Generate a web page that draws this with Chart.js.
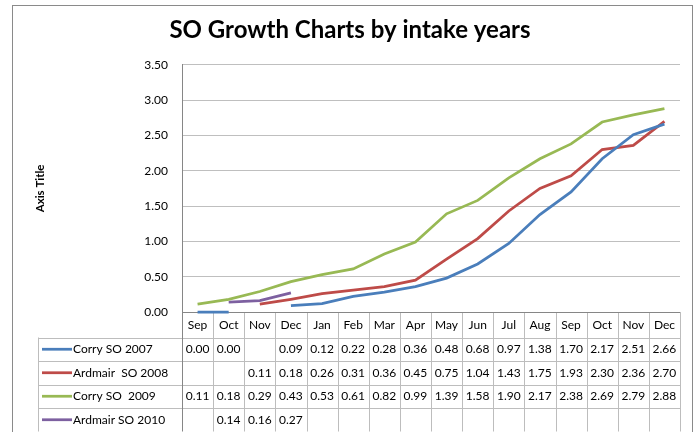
<!DOCTYPE html>
<html><head><meta charset="utf-8">
<script src="https://cdn.jsdelivr.net/npm/chart.js@4"></script>
<style>html,body{margin:0;padding:0;background:#fff}</style>
</head><body>
<canvas id="c" width="695" height="432"></canvas>
<script>
const months = ['Sep','Oct','Nov','Dec','Jan','Feb','Mar','Apr','May','Jun','Jul','Aug','Sep','Oct','Nov','Dec'];
const seriesNames = ['Corry SO 2007','Ardmair  SO 2008','Corry SO  2009','Ardmair SO 2010'];
const corry2007   = [0.00,0.00,null,0.09,0.12,0.22,0.28,0.36,0.48,0.68,0.97,1.38,1.70,2.17,2.51,2.66];
const ardmair2008 = [null,null,0.11,0.18,0.26,0.31,0.36,0.45,0.75,1.04,1.43,1.75,1.93,2.30,2.36,2.70];
const corry2009   = [0.11,0.18,0.29,0.43,0.53,0.61,0.82,0.99,1.39,1.58,1.90,2.17,2.38,2.69,2.79,2.88];
const ardmair2010 = [null,0.14,0.16,0.27,null,null,null,null,null,null,null,null,null,null,null,null];
const seriesColors = ['#4A7EBB','#BE4B48','#98B954','#7D60A0'];
const seriesData = [corry2007, ardmair2008, corry2009, ardmair2010];

const FONT = 'Lato, "Open Sans", sans-serif';

const tablePlugin = {
  id: 'dataTable',
  beforeDraw(chart) {
    const ctx = chart.ctx;
    ctx.save();
    ctx.fillStyle = '#fff';
    ctx.fillRect(0, 0, chart.width, chart.height);
    ctx.strokeStyle = '#8a8a8a';
    ctx.lineWidth = 1;
    ctx.strokeRect(12.5, 5.5, 680, 440);
    ctx.restore();
  },
  beforeDatasetsDraw(chart) {
    const ctx = chart.ctx;
    const a = chart.chartArea;
    const n = months.length;
    const cw = (a.right - a.left) / n;
    const headerH = 25.5, rowH = 23.5;
    const tableLeft = 38;
    const rowTops = [a.bottom + headerH];
    for (let i = 1; i <= seriesNames.length; i++) rowTops.push(a.bottom + headerH + rowH * i);
    const bottom = rowTops[rowTops.length - 1];
    ctx.save();
    ctx.lineWidth = 1;
    ctx.strokeStyle = '#BDBDBD';
    rowTops.forEach(y => {
      ctx.beginPath(); ctx.moveTo(tableLeft, Math.round(y) + 0.5); ctx.lineTo(a.right, Math.round(y) + 0.5); ctx.stroke();
    });
    for (let i = 1; i <= n; i++) {
      const xx = Math.round(a.left + cw * i) + 0.5;
      ctx.beginPath(); ctx.moveTo(xx, a.bottom); ctx.lineTo(xx, bottom); ctx.stroke();
    }
    ctx.beginPath(); ctx.moveTo(tableLeft + 0.5, rowTops[0]); ctx.lineTo(tableLeft + 0.5, bottom); ctx.stroke();
    ctx.strokeStyle = '#868686';
    ctx.beginPath(); ctx.moveTo(a.left, Math.round(a.bottom) + 0.5); ctx.lineTo(a.right, Math.round(a.bottom) + 0.5); ctx.stroke();
    ctx.beginPath(); ctx.moveTo(Math.round(a.left) + 0.5, a.bottom); ctx.lineTo(Math.round(a.left) + 0.5, bottom); ctx.stroke();
    ctx.restore();
  },
  afterDraw(chart) {
    const ctx = chart.ctx;
    const a = chart.chartArea;
    const x = chart.scales.x;
    const headerH = 25.5, rowH = 23.5;
    const rowTops = [a.bottom + headerH];
    for (let i = 1; i <= seriesNames.length; i++) rowTops.push(a.bottom + headerH + rowH * i);
    ctx.save();
    ctx.fillStyle = '#000';
    ctx.font = '12px ' + FONT;
    ctx.textAlign = 'center';
    ctx.textBaseline = 'middle';
    months.forEach((m, i) => {
      ctx.fillText(m, x.getPixelForValue(i), a.bottom + headerH / 2);
    });
    seriesNames.forEach((name, r) => {
      const cy = rowTops[r] + rowH / 2;
      ctx.strokeStyle = seriesColors[r];
      ctx.lineWidth = 2.75;
      ctx.beginPath(); ctx.moveTo(42, cy); ctx.lineTo(72, cy); ctx.stroke();
      ctx.textAlign = 'left';
      ctx.fillText(name, 73, cy);
      ctx.textAlign = 'center';
      seriesData[r].forEach((v, i) => {
        if (v !== null) ctx.fillText(v.toFixed(2), x.getPixelForValue(i), cy);
      });
    });
    ctx.restore();
  }
};

new Chart(document.getElementById('c'), {
  type: 'line',
  data: {
    labels: months,
    datasets: seriesNames.map((name, i) => ({
      label: name,
      data: seriesData[i],
      borderColor: seriesColors[i],
      backgroundColor: seriesColors[i],
      borderWidth: 2.75,
      pointRadius: 0,
      tension: 0,
      spanGaps: false,
      clip: 4
    }))
  },
  options: {
    responsive: false,
    animation: false,
    devicePixelRatio: 1,
    layout: { padding: { left: 20, right: 15, top: 0, bottom: 120 } },
    plugins: {
      legend: { display: false },
      tooltip: { enabled: false },
      title: {
        display: true,
        text: 'SO Growth Charts by intake years',
        color: '#000',
        font: { family: FONT, size: 24, weight: 'bold' },
        padding: { top: 16, bottom: 20 }
      }
    },
    scales: {
      x: {
        display: false,
        offset: true
      },
      y: {
        min: 0, max: 3.5,
        afterFit(s) { s.width = 162; },
        ticks: {
          stepSize: 0.5,
          color: '#000',
          padding: 14,
          font: { family: FONT, size: 12 },
          callback: v => Number(v).toFixed(2)
        },
        grid: { color: '#BFBFBF', drawTicks: false },
        border: { color: '#868686' },
        title: {
          display: true,
          text: 'Axis Title',
          color: '#000',
          font: { family: FONT, size: 11.5, weight: 'bold' },
          padding: { top: 13, bottom: 4 }
        }
      }
    }
  },
  plugins: [tablePlugin]
});
</script>
</body></html>
